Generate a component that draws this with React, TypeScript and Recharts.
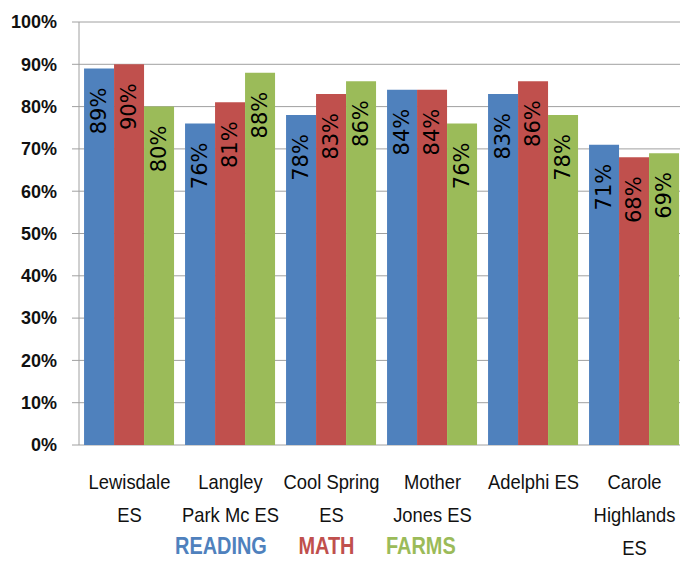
import React from "react";
import { Bar, BarChart, CartesianGrid, LabelList, XAxis, YAxis } from "recharts";

const schools = [
  "Lewisdale\nES",
  "Langley\nPark Mc ES",
  "Cool Spring\nES",
  "Mother\nJones ES",
  "Adelphi ES",
  "Carole\nHighlands\nES",
];
const reading = [89, 76, 78, 84, 83, 71];
const math = [90, 81, 83, 84, 86, 68];
const farms = [80, 88, 86, 76, 78, 69];
const yTicks = [0, 10, 20, 30, 40, 50, 60, 70, 80, 90, 100];

const series = [
  { key: "reading", name: "READING", color: "#4F81BD" },
  { key: "math", name: "MATH", color: "#C0504D" },
  { key: "farms", name: "FARMS", color: "#9BBB59" },
];

const data = schools.map((school, i) => ({
  school,
  reading: reading[i],
  math: math[i],
  farms: farms[i],
}));

const boundaries = schools.map((_, i) => i).concat(schools.length);

const FONT = '"Liberation Sans", Arial, sans-serif';
const GRID = "#a0a0a0";

function SchoolTick({ x, y, payload }: any) {
  const lines = String(payload.value).split("\n");
  // Calibri-like narrow look: squeeze Liberation Sans horizontally
  return (
    <g transform={`translate(${x}, ${y}) scale(0.92, 1)`}>
      <text x={0} y={0} textAnchor="middle" fontFamily={FONT} fontSize={20} fill="#111">
        {lines.map((line, i) => (
          <tspan key={i} x={0} y={44 + i * 33}>
            {line}
          </tspan>
        ))}
      </text>
    </g>
  );
}

function ValueLabel({ x, y, width, value }: any) {
  const cx = x + width / 2;
  const ty = y + 19;
  return (
    <text
      x={cx}
      y={ty}
      transform={`rotate(-90, ${cx}, ${ty})`}
      textAnchor="end"
      dominantBaseline="central"
      fontFamily='"DejaVu Sans", sans-serif'
      fontSize={21}
      fill="#000"
    >
      {value}%
    </text>
  );
}

export default function App() {
  return (
    <div
      style={{
        position: "absolute",
        left: 0,
        top: 0,
        width: 680,
        height: 561,
        overflow: "hidden",
        background: "#fff",
      }}
    >
      <BarChart
        width={700}
        height={561}
        data={data}
        margin={{ top: 22, right: 15, left: 0, bottom: 0 }}
        barCategoryGap="5%"
        barGap={0}
      >
        <CartesianGrid xAxisId="cat" vertical={false} stroke={GRID} strokeWidth={1} />
        <XAxis
          xAxisId="edge"
          type="number"
          domain={[0, schools.length]}
          ticks={boundaries}
          tick={false}
          tickSize={8}
          height={0}
          stroke={GRID}
        />
        <XAxis
          xAxisId="cat"
          dataKey="school"
          axisLine={false}
          tickLine={false}
          tickSize={0}
          tickMargin={0}
          height={116}
          interval={0}
          tick={<SchoolTick />}
        />
        <YAxis
          domain={[0, 100]}
          ticks={yTicks}
          width={79}
          tickSize={7}
          tickMargin={15}
          stroke={GRID}
          tickFormatter={(v) => `${v}%`}
          tick={{ fontFamily: FONT, fontSize: 18, fontWeight: 700, fill: "#111" }}
        />
        {series.map((s) => (
          <Bar
            key={s.key}
            xAxisId="cat"
            dataKey={s.key}
            name={s.name}
            fill={s.color}
            isAnimationActive={false}
          >
            <LabelList dataKey={s.key} content={<ValueLabel />} />
          </Bar>
        ))}
      </BarChart>
      <div
        style={{
          position: "absolute",
          left: 175,
          top: 531,
          display: "flex",
          gap: 38,
          fontFamily: FONT,
          fontWeight: 700,
          fontSize: 24,
          lineHeight: "30px",
          transform: "scaleX(0.83)",
          transformOrigin: "left top",
          whiteSpace: "nowrap",
        }}
      >
        {series.map((s) => (
          <span key={s.key} style={{ color: s.color }}>
            {s.name}
          </span>
        ))}
      </div>
    </div>
  );
}
